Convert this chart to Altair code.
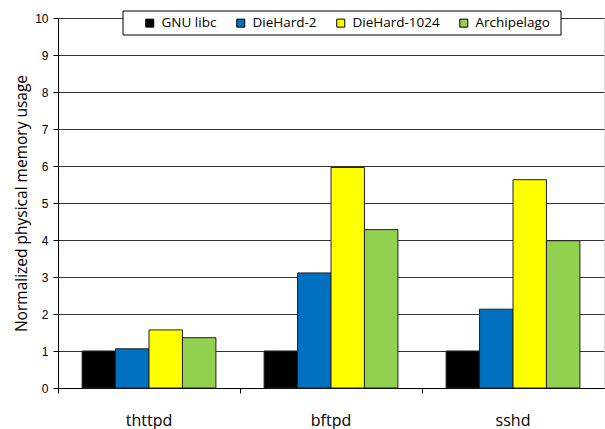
import altair as alt
import pandas as pd

apps = ["thttpd", "bftpd", "sshd"]
allocators = ["GNU libc", "DieHard-2", "DieHard-1024", "Archipelago"]
colors = ["#000000", "#0070C0", "#FFFF00", "#92D050"]
gnu_libc = [1.0, 1.0, 1.0]
diehard_2 = [1.06, 3.11, 2.13]
diehard_1024 = [1.57, 5.96, 5.63]
archipelago = [1.36, 4.28, 3.98]

series = [gnu_libc, diehard_2, diehard_1024, archipelago]
rows = []
for alloc, vals in zip(allocators, series):
    for app, v in zip(apps, vals):
        rows.append({"app": app, "allocator": alloc, "value": v})
df = pd.DataFrame(rows)

bars = alt.Chart(df).mark_bar(stroke="#222222", strokeWidth=1).encode(
    x=alt.X("app:N", sort=apps, scale=alt.Scale(paddingInner=0, paddingOuter=0),
            axis=alt.Axis(title=None, labelAngle=0, bandPosition=0, tickSize=5,
                          tickColor="#000000", domainColor="#000000",
                          labelFont="Open Sans", labelFontSize=16, labelColor="#000000",
                          labelPadding=19, labelBound=False, grid=False)),
    xOffset=alt.XOffset("allocator:N", sort=allocators,
                        scale=alt.Scale(paddingInner=0, paddingOuter=0.72)),
    y=alt.Y("value:Q", scale=alt.Scale(domain=[0, 10], nice=False),
            axis=alt.Axis(title="Normalized physical memory usage", values=list(range(11)),
                          tickSize=5, tickColor="#000000", domainColor="#000000",
                          gridColor="#333333", gridWidth=1, labelPadding=5,
                          labelFont="Liberation Sans", labelFontSize=12, labelColor="#000000",
                          titleFont="Open Sans", titleFontSize=15.5, titleFontWeight="normal",
                          titleColor="#000000", titlePadding=5)),
    color=alt.Color("allocator:N", sort=allocators,
                    scale=alt.Scale(domain=allocators, range=colors),
                    legend=alt.Legend(title=None, orient="none", direction="horizontal",
                                      legendX=85, legendY=-2,
                                      symbolType="square", symbolSize=64,
                                      symbolStrokeColor="#000000", symbolStrokeWidth=1,
                                      labelFont="Open Sans", labelFontSize=13.5, labelColor="#000000",
                                      labelOffset=5, columnPadding=17,
                                      padding=0)),
)

legend_box = alt.Chart(pd.DataFrame({"k": [0]})).mark_rect(
    fill="#ffffff", stroke="#000000", strokeWidth=1
).encode(x=alt.value(65), x2=alt.value(503), y=alt.value(-7), y2=alt.value(17))

chart = alt.layer(bars, legend_box).properties(
    width=546, height=370,
    autosize=alt.AutoSizeParams(type="none"),
    padding={"left": 58, "top": 18, "right": 1, "bottom": 41},
).configure_view(stroke=None).configure(background="#ffffff")

chart.save("out.html", embed_options={"renderer": "svg", "actions": False})
